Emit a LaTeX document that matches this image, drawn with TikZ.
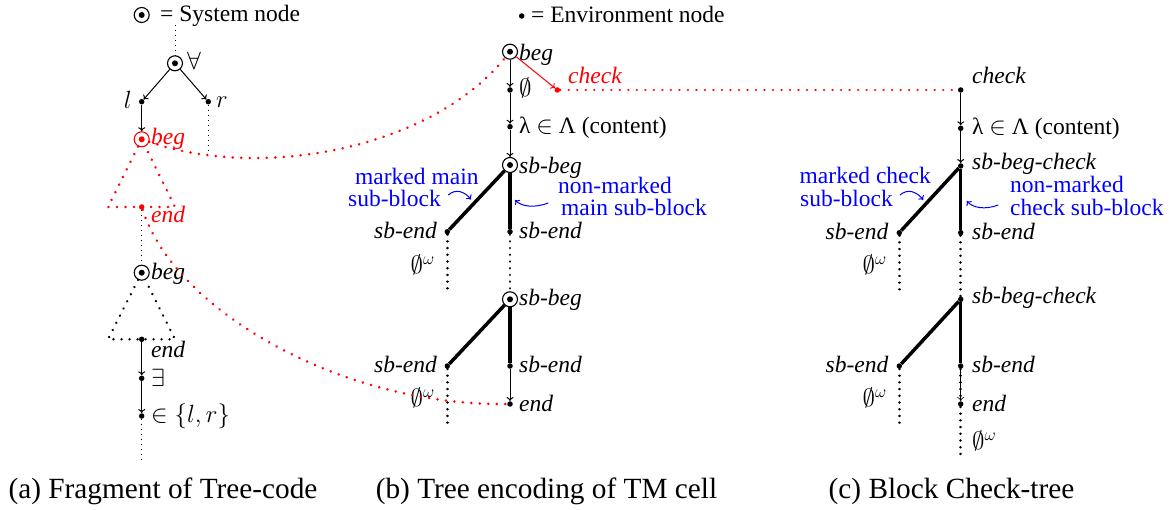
\documentclass[tikz,border=0pt]{standalone}
\usepackage{fontspec}
\setmainfont{Liberation Serif}
\usetikzlibrary{arrows.meta}
\tikzset{
  env/.style={circle, fill, inner sep=0pt, minimum size=5.5pt},
  sys/.style={circle, draw, line width=1.1pt, inner sep=0pt, minimum size=15pt,
    path picture={\fill (path picture bounding box.center) circle (3pt);}},
  lbl/.style={inner sep=0pt, font=\fontsize{23.5}{28}\selectfont},
  captxt/.style={inner sep=0pt, font=\fontsize{29.3}{35}\selectfont},
  tdot/.style={line width=1pt, dash pattern=on 1pt off 4pt},
  hdot/.style={line width=2.6pt, line cap=round, dash pattern=on 0.01pt off 6.7pt},
  tridot/.style={line width=2.6pt, line cap=round, dash pattern=on 0.01pt off 8pt},
  rdot/.style={red, line width=2.8pt, line cap=round, dash pattern=on 0.01pt off 8.5pt},
  thk/.style={line width=3.5pt},
  arr/.style={line width=1pt, -{To[length=4pt,width=7pt]}},
  barr/.style={blue, line width=1pt, -{To[length=4pt,width=7pt]}},
}
\begin{document}
\begin{tikzpicture}[x=1pt,y=-1pt]
\useasboundingbox (0,0) rectangle (1172,510);

% ---------------- column (a) ----------------
\node[sys] (legS) at (141.7,15) {};
\node[lbl, anchor=base west] (legSt) at (160,22) {= System node};
\coordinate (topA) at (175,25);
\node[sys] (all) at (175,63.3) {};
\node[lbl, anchor=base west] (allL) at (187,70) {$\forall$};
\node[env] (l) at (141.7,101.7) {};
\node[env] (r) at (208.3,101.7) {};
\node[lbl, anchor=base east] (lL) at (132,109) {$l$};
\node[lbl, anchor=base west] (rL) at (216,108) {$r$};
\node[sys, red] (begA) at (141.7,139.3) {};
\node[lbl, red, anchor=base west] (begAL) at (151,145) {\itshape beg};
\coordinate (rEnd) at (208.3,150);
\coordinate (tAL) at (108,207);
\coordinate (tAR) at (175,207);
\node[env, red] (endA) at (141.7,207) {};
\node[lbl, red, anchor=base west] (endAL) at (151,222.5) {\itshape end};
\node[sys] (begB) at (141.7,272.7) {};
\node[lbl, anchor=base west] (begBL) at (151,280) {\itshape beg};
\coordinate (tBL) at (108,339.3);
\coordinate (tBR) at (175,339.3);
\node[env] (endB) at (141.7,339.3) {};
\node[lbl, anchor=base west] (endBL) at (151,357) {\itshape end};
\node[env] (ex) at (141.7,378.3) {};
\node[lbl, anchor=base west] (exL) at (151,386) {$\exists$};
\node[env] (inlr) at (141.7,416) {};
\node[lbl, anchor=base west] (inlrL) at (151,422) {$\in\{l,r\}$};
\coordinate (aBot) at (141.7,460);

\draw[tdot] (topA) -- (all);
\draw[arr] (all) -- (l);
\draw[arr] (all) -- (r);
\draw[arr] (l) -- (begA);
\draw[tdot] (r) -- (rEnd);
\draw[rdot] (begA) -- (tAL) -- (tAR) -- (begA);
\draw[tdot] (endA) -- (begB);
\draw[tridot] (begB) -- (tBL) -- (tBR) -- (begB);
\draw[arr] (endB) -- (ex);
\draw[arr] (ex) -- (inlr);
\draw[tdot] (inlr) -- (aBot);

% ---------------- column (b) ----------------
\node[env] (legE) at (521.7,16) {};
\node[lbl, anchor=base west] (legEt) at (531,23) {= Environment node};
\node[sys] (bbeg) at (510,51.7) {};
\node[lbl, anchor=base west] (bbegL) at (519,61) {\itshape beg};
\node[env] (bemp) at (510,90) {};
\node[lbl, anchor=base west] (bempL) at (519,97) {$\emptyset$};
\node[env, red] (bchk) at (557.3,90) {};
\node[lbl, red, anchor=base west] (bchkL) at (568,83.3) {\itshape check};
\node[env] (blam) at (510,126.7) {};
\node[lbl, anchor=base west] (blamL) at (519,133.3) {λ $\in$ Λ (content)};
\node[sys] (bsb1) at (510,165) {};
\node[lbl, anchor=base west] (bsb1L) at (519,173.3) {\itshape sb-beg};
\node[env] (bL1) at (447.3,231.7) {};
\node[env] (bR1) at (510,231.7) {};
\node[lbl, anchor=base east] (bL1L) at (437,238.3) {\itshape sb-end};
\node[lbl, anchor=base west] (bR1L) at (519,238.3) {\itshape sb-end};
\coordinate (bL1e) at (447.3,293);
\node[lbl, anchor=base east] (bw1) at (435,273.3) {$\emptyset^{\omega}$};
\node[sys] (bsb2) at (510,299.3) {};
\node[lbl, anchor=base west] (bsb2L) at (519,306) {\itshape sb-beg};
\node[env] (bL2) at (447.3,366) {};
\node[env] (bR2) at (510,366) {};
\node[lbl, anchor=base east] (bL2L) at (437,372.7) {\itshape sb-end};
\node[lbl, anchor=base west] (bR2L) at (519,372.7) {\itshape sb-end};
\node[env] (bend) at (510,404) {};
\node[lbl, anchor=base west] (bendL) at (519,411.7) {\itshape end};
\coordinate (bL2e) at (447.3,426.7);
\node[lbl, anchor=base east] (bw2) at (435,406.7) {$\emptyset^{\omega}$};

\node[lbl, blue, anchor=base west] (bm1) at (355,184.3) {marked main};
\node[lbl, blue, anchor=base west] (bm2) at (348,206.7) {sub-block};
\node[lbl, blue, anchor=base west] (bn1) at (558,193.3) {non-marked};
\node[lbl, blue, anchor=base west] (bn2) at (561,215.5) {main sub-block};
\coordinate (bmA) at (448.3,195);
\coordinate (bmB) at (471,199.5);
\coordinate (bnA) at (548.3,203);
\coordinate (bnB) at (515,200);

\draw[arr] (bbeg) -- (bemp);
\draw[arr] (bemp) -- (blam);
\draw[arr] (blam) -- (bsb1);
\draw[arr, red] (bbeg) -- (bchk);
\draw[thk] (bsb1) -- (bL1);
\draw[thk] (bsb1) -- (bR1);
\draw[hdot] (bL1) -- (bL1e);
\draw[hdot] (bR1) -- (bsb2);
\draw[thk] (bsb2) -- (bL2);
\draw[thk] (bsb2) -- (bR2);
\draw[arr] (bR2) -- (bend);
\draw[hdot] (bL2) -- (bL2e);
\draw[barr] (bmA) .. controls (456,188) and (465,192) .. (bmB);
\draw[barr] (bnA) .. controls (535,208) and (522,207) .. (bnB);

% ---------------- column (c) ----------------
\node[env] (cchk) at (960.7,90) {};
\node[lbl, anchor=base west] (cchkL) at (972,83.3) {\itshape check};
\node[env] (clam) at (960.7,128.3) {};
\node[lbl, anchor=base west] (clamL) at (972,135) {λ $\in$ Λ (content)};
\node[env] (csb1) at (960.7,166) {};
\node[lbl, anchor=base west] (csb1L) at (972,170) {\itshape sb-beg-check};
\node[env] (cL1) at (899.3,232.7) {};
\node[env] (cR1) at (960.7,232.7) {};
\node[lbl, anchor=base east] (cL1L) at (888.5,239.3) {\itshape sb-end};
\node[lbl, anchor=base west] (cR1L) at (972,239.3) {\itshape sb-end};
\coordinate (cL1e) at (899.3,293.3);
\node[lbl, anchor=base east] (cw1) at (887,273.3) {$\emptyset^{\omega}$};
\node[env] (csb2) at (960.7,299.3) {};
\node[lbl, anchor=base west] (csb2L) at (972,303.3) {\itshape sb-beg-check};
\node[env] (cL2) at (899.3,366) {};
\node[env] (cR2) at (960.7,366) {};
\node[lbl, anchor=base east] (cL2L) at (888.5,372.7) {\itshape sb-end};
\node[lbl, anchor=base west] (cR2L) at (972,372.7) {\itshape sb-end};
\node[env] (cend) at (960.7,404) {};
\node[lbl, anchor=base west] (cendL) at (972,411.7) {\itshape end};
\coordinate (cL2e) at (899.3,426.7);
\node[lbl, anchor=base east] (cw2) at (887,406.7) {$\emptyset^{\omega}$};
\coordinate (cBot) at (960.7,456.7);
\node[lbl, anchor=base west] (cw3) at (972,449.3) {$\emptyset^{\omega}$};

\node[lbl, blue, anchor=base west] (cm1) at (799.5,183.3) {marked check};
\node[lbl, blue, anchor=base west] (cm2) at (800,206.7) {sub-block};
\node[lbl, blue, anchor=base west] (cn1) at (1010,192.7) {non-marked};
\node[lbl, blue, anchor=base west] (cn2) at (1010,216) {check sub-block};
\coordinate (cmA) at (900,195);
\coordinate (cmB) at (923.3,200);
\coordinate (cnA) at (998.3,205);
\coordinate (cnB) at (966.7,201);

\draw[arr] (cchk) -- (clam);
\draw[arr] (clam) -- (csb1);
\draw[thk] (csb1) -- (cL1);
\draw[thk] (csb1) -- (cR1);
\draw[hdot] (cL1) -- (cL1e);
\draw[hdot] (cR1) -- (csb2);
\draw[thk] (csb2) -- (cL2);
\draw[thk] (csb2) -- (cR2);
\draw[hdot] (cR2) -- (cend);
\draw[arr, line width=0.6pt] (cR2) -- (cend);
\draw[hdot] (cL2) -- (cL2e);
\draw[hdot] (cend) -- (cBot);
\draw[barr] (cmA) .. controls (908,188) and (917,192) .. (cmB);
\draw[barr] (cnA) .. controls (985,210) and (973,208) .. (cnB);

% ---------------- red connections ----------------
\draw[rdot] (begA) .. controls (260,180) and (430,150) .. (bbeg);
\draw[rdot] (endA) .. controls (175,310) and (340,406) .. (bend);
\draw[rdot] (bchk) -- (cchk);

% ---------------- captions ----------------
\node[captxt, anchor=base] (capA) at (163,498) {(a) Fragment of Tree-code};
\node[captxt, anchor=base] (capB) at (546.5,498) {(b) Tree encoding of TM cell};
\node[captxt, anchor=base] (capC) at (951.5,498) {(c) Block Check-tree};
\end{tikzpicture}
\end{document}
